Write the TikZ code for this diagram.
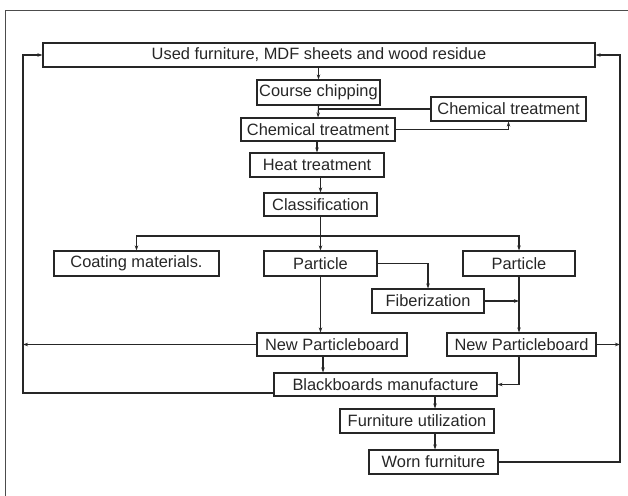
\documentclass[tikz,border=0pt]{standalone}
\usepackage{fontspec}
\setmainfont{Liberation Sans}
\usetikzlibrary{arrows.meta}
\begin{document}
\begin{tikzpicture}[x=1pt,y=-1pt,
  box/.style={draw=black!85,line width=1.1pt,inner sep=0pt,font=\fontsize{16.4}{18}\selectfont,text=black!85},
  link/.style={draw=black!85,line width=1.1pt},
  arr/.style={link,-{Stealth[length=5pt,width=3.5pt]}}]
\useasboundingbox (0,0) rectangle (628,495);
\draw[black!70,line width=1pt] (5,11) rectangle (645,510);
\node[box,minimum width=552,minimum height=24] (used) at (319,55) {Used furniture, MDF sheets and wood residue};
\node[box,minimum width=123,minimum height=25] (chip) at (318.5,92.5) {Course chipping};
\node[box,minimum width=154,minimum height=23] (chemL) at (318,129.5) {Chemical treatment};
\node[box,minimum width=155,minimum height=24] (chemR) at (508.5,109) {Chemical treatment};
\node[box,minimum width=134,minimum height=24] (heat) at (317,165) {Heat treatment};
\node[box,minimum width=113,minimum height=23] (class) at (320.5,204.5) {Classification};
\node[box,minimum width=165,minimum height=25] (coat) at (136.5,263.5) {Coating materials.};
\node[box,minimum width=113,minimum height=25] (partM) at (320.5,263.5) {Particle};
\node[box,minimum width=112,minimum height=25] (partR) at (519,263.5) {Particle};
\node[box,minimum width=112,minimum height=24] (fib) at (428,301) {Fiberization};
\node[box,minimum width=150,minimum height=23] (npM) at (332,344.5) {New Particleboard};
\node[box,minimum width=149,minimum height=23] (npR) at (521.5,344.5) {New Particleboard};
\node[box,minimum width=223,minimum height=23] (black) at (385.5,384.5) {Blackboards manufacture};
\node[box,minimum width=154,minimum height=24] (furn) at (417,421) {Furniture utilization};
\node[box,minimum width=129,minimum height=24] (worn) at (433.5,462) {Worn furniture};
\coordinate (Lx) at (23,0);
\coordinate (Rx) at (620,0);
\coordinate (split) at (0,236);
\coordinate (chemmid) at (318,109);
% main chain
\draw[arr] (used.south -| chip) -- (chip.north);
\draw[arr] (chip.south) -- (chemL.north);
\draw[link] (chemR.west) -- (chemmid);
\draw[arr] (chemL.east) -| (chemR.south);
\draw[arr] (chemL.south -| heat) -- (heat.north);
\draw[arr] (heat.south -| class) -- (class.north);
\draw[link] (class.south) -- (class.south |- split);
\draw[arr] (class.south |- split) -| (coat.north);
\draw[arr] (class.south |- split) -| (partR.north);
\draw[arr] (class.south) -- (partM.north);
\draw[arr] (partM.east) -| (fib.north);
\draw[arr] (fib.east) -- (fib.east -| partR);
\draw[arr] (partM.south) -- (partM.south |- npM.north);
\draw[arr] (partR.south) -- (partR.south |- npR.north);
\draw[arr] (npM.south -| 323,0) -- (black.north -| 323,0);
\draw[arr] (npR.south -| partR) |- (black.east);
\draw[arr] (black.south -| 435,0) -- (furn.north -| 435,0);
\draw[arr] (furn.south -| 435,0) -- (worn.north -| 435,0);
% feedback loops
\draw[arr] (black.west |- 0,393) -| (Lx |- used) -- (used.west);
\draw[arr] (npM.west) -- (npM.west -| Lx);
\draw[arr] (worn.east) -| (Rx |- used) -- (used.east);
\draw[arr] (npR.east) -- (npR.east -| Rx);
\end{tikzpicture}
\end{document}
